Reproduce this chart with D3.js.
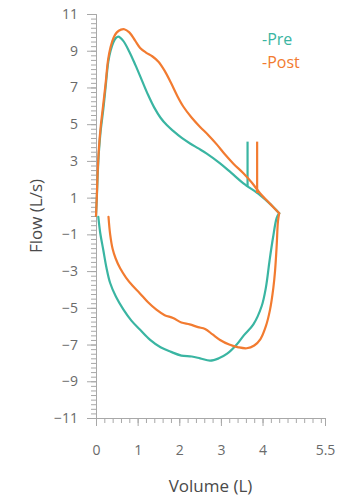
<!DOCTYPE html>
<html>
<head>
<meta charset="utf-8">
<script src="https://cdn.jsdelivr.net/npm/d3@7"></script>
<style>
  html, body { margin: 0; padding: 0; background: #fff; }
  svg { display: block; font-family: "Open Sans", "Noto Sans", sans-serif; }
</style>
</head>
<body>
<svg id="chart" width="347" height="501"></svg>
<script>
// Flow-volume loops, pre and post bronchodilator
const seriesNames = ["Pre", "Post"];
const seriesColors = ["#3ab5a2", "#f27b30"];

// Expiratory limb: volume (L) and flow (L/s)
const preExpVol  = [0.00, 0.02, 0.04, 0.07, 0.11, 0.175, 0.23, 0.295, 0.35, 0.415, 0.48, 0.535, 0.65, 0.80, 0.95, 1.10, 1.25, 1.40, 1.55, 1.70, 1.86, 2.06, 2.26, 2.46, 2.66, 2.98, 3.25, 3.54, 3.94, 4.20, 4.40];
const preExpFlow = [0.00, 1.00, 2.20, 3.50, 4.60, 5.80, 7.00, 8.40, 9.00, 9.45, 9.70, 9.77, 9.55, 8.95, 8.20, 7.40, 6.60, 5.90, 5.35, 4.95, 4.62, 4.25, 3.95, 3.68, 3.40, 2.87, 2.35, 1.78, 1.14, 0.62, 0.15];
const postExpVol  = [0.00, 0.02, 0.04, 0.07, 0.11, 0.17, 0.23, 0.29, 0.35, 0.42, 0.50, 0.60, 0.68, 0.80, 0.94, 1.06, 1.20, 1.35, 1.50, 1.65, 1.80, 1.95, 2.10, 2.30, 2.50, 2.70, 2.90, 3.10, 3.30, 3.54, 3.75, 3.94, 4.20, 4.40];
const postExpFlow = [0.00, 1.10, 2.40, 3.70, 4.80, 6.00, 7.20, 8.50, 9.20, 9.70, 10.00, 10.15, 10.17, 10.00, 9.55, 9.15, 8.90, 8.70, 8.40, 7.90, 7.25, 6.55, 5.95, 5.35, 4.85, 4.40, 3.90, 3.35, 2.85, 2.33, 1.80, 1.24, 0.62, 0.15];

// Inspiratory limb, from end of expiration back toward residual volume
const preInspVol  = [4.40, 4.34, 4.25, 4.17, 4.08, 3.98, 3.78, 3.55, 3.38, 3.15, 2.95, 2.74, 2.50, 2.30, 2.05, 1.80, 1.55, 1.30, 1.06, 0.85, 0.66, 0.48, 0.34, 0.25, 0.175, 0.10, 0.055];
const preInspFlow = [0.15, -0.10, -1.20, -2.40, -3.90, -4.90, -5.90, -6.50, -7.00, -7.50, -7.75, -7.88, -7.75, -7.65, -7.60, -7.40, -7.15, -6.75, -6.20, -5.70, -5.10, -4.40, -3.65, -2.80, -1.85, -0.90, -0.04];
const postInspVol  = [4.40, 4.37, 4.34, 4.30, 4.26, 4.18, 4.08, 3.95, 3.80, 3.62, 3.42, 3.20, 2.98, 2.80, 2.62, 2.45, 2.25, 2.05, 1.85, 1.65, 1.45, 1.25, 1.05, 0.88, 0.72, 0.58, 0.47, 0.40, 0.34, 0.30];
const postInspFlow = [0.15, -0.30, -1.60, -3.00, -3.90, -5.10, -6.00, -6.70, -7.05, -7.20, -7.15, -7.00, -6.75, -6.45, -6.15, -6.05, -5.90, -5.80, -5.55, -5.40, -5.10, -4.70, -4.20, -3.80, -3.35, -2.85, -2.30, -1.80, -1.00, -0.04];

// Vertical markers on the expiratory limbs
const markerVol  = [3.64, 3.87];
const markerTop  = [4.05, 4.05];
const markerBase = [1.62, 1.25];

// Axis ticks
const xTickValues = [0, 1, 2, 3, 4, 5.5];
const yTickValues = [11, 9, 7, 5, 3, 1, -1, -3, -5, -7, -9, -11];

const svg = d3.select("#chart");
const x = d3.scaleLinear().domain([0, 5.5]).range([96, 325]);
const y = d3.scaleLinear().domain([-11, 11]).range([418, 14]);

const axisColor = "#a8a8a8";
const labelColor = "#6a6a6a";
const fontStack = "'Open Sans', 'Noto Sans', sans-serif";

// Minor ticks
const xMinor = d3.range(0, 5.5001, 0.2).map(v => +v.toFixed(2));
const yMinor = d3.range(-11, 11.0001, 0.25).map(v => +v.toFixed(2));

const gxMinor = svg.append("g").attr("transform", `translate(0,${y(-11)})`)
  .call(d3.axisBottom(x).tickValues(xMinor).tickSize(5).tickFormat(""));
const gyMinor = svg.append("g").attr("transform", `translate(${x(0)},0)`)
  .call(d3.axisLeft(y).tickValues(yMinor).tickSize(5).tickFormat(""));

const gx = svg.append("g").attr("transform", `translate(0,${y(-11)})`)
  .call(d3.axisBottom(x).tickValues(xTickValues).tickSize(8).tickPadding(19).tickFormat(d3.format("")));
const gy = svg.append("g").attr("transform", `translate(${x(0)},0)`)
  .call(d3.axisLeft(y).tickValues(yTickValues).tickSize(9).tickPadding(9).tickFormat(d3.format("")));

[gxMinor, gyMinor, gx, gy].forEach(g => {
  g.selectAll("path.domain").attr("stroke", axisColor).attr("stroke-width", 1);
  g.selectAll(".tick line").attr("stroke", axisColor).attr("stroke-width", 1);
  g.selectAll(".tick text").attr("fill", labelColor).attr("font-size", 14)
    .attr("font-family", fontStack);
});

// Axis titles
svg.append("text")
  .attr("transform", `translate(42,${(y(11) + y(-11)) / 2}) rotate(-90)`)
  .attr("text-anchor", "middle")
  .attr("fill", "#4a4a4a").attr("font-size", 17)
  .text("Flow (L/s)");
svg.append("text")
  .attr("x", (x(0) + x(5.5)) / 2).attr("y", 492)
  .attr("text-anchor", "middle")
  .attr("fill", "#4a4a4a").attr("font-size", 17)
  .text("Volume (L)");

// Loops
const line = d3.line().x(d => x(d[0])).y(d => y(d[1])).curve(d3.curveCatmullRom.alpha(0.5));
const zip = (a, b) => a.map((v, i) => [v, b[i]]);

const loops = [
  { exp: zip(preExpVol, preExpFlow), insp: zip(preInspVol, preInspFlow) },
  { exp: zip(postExpVol, postExpFlow), insp: zip(postInspVol, postInspFlow) }
];

loops.forEach((s, i) => {
  [s.exp, s.insp].forEach(pts => {
    svg.append("path")
      .attr("d", line(pts))
      .attr("fill", "none")
      .attr("stroke", seriesColors[i])
      .attr("stroke-width", 2.2)
      .attr("stroke-linejoin", "round")
      .attr("stroke-linecap", "round");
  });
  svg.append("line")
    .attr("x1", x(markerVol[i])).attr("x2", x(markerVol[i]))
    .attr("y1", y(markerTop[i])).attr("y2", y(markerBase[i]))
    .attr("stroke", seriesColors[i]).attr("stroke-width", 2.2);
});

// Legend
const legend = svg.append("g");
seriesNames.forEach((name, i) => {
  legend.append("text")
    .attr("x", 262).attr("y", 45 + i * 23)
    .attr("fill", seriesColors[i])
    .attr("font-size", 16)
    .text("-" + name);
});
</script>
</body>
</html>
